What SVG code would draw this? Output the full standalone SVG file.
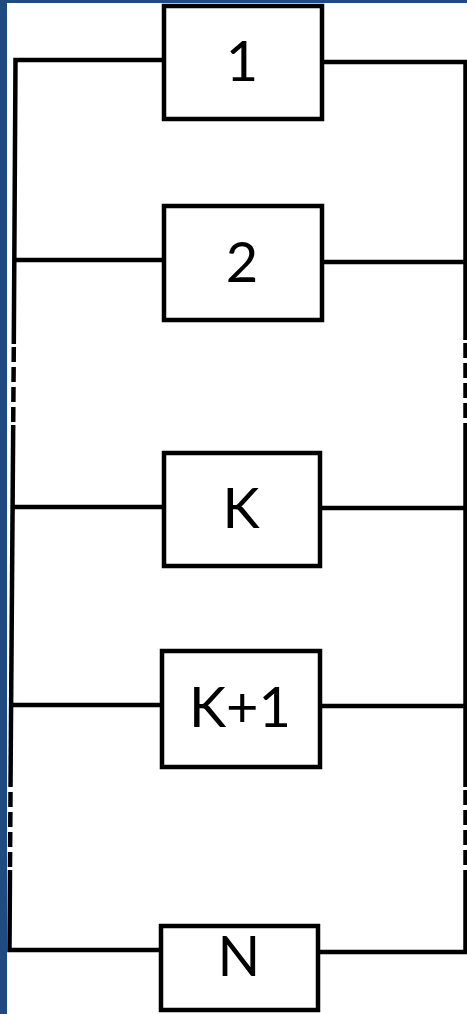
<svg xmlns="http://www.w3.org/2000/svg" width="467" height="1014" viewBox="0 0 467 1014">
<style>
.box{fill:#fff;stroke:#000;stroke-width:4.5}
.lbl{font-family:"Lato","Liberation Sans",sans-serif;font-size:56px;fill:#000;text-anchor:middle}
.w{stroke:#000;stroke-width:4.5;fill:none}
.d{stroke:#000;stroke-width:4.5;fill:none;stroke-dasharray:15 5}
</style>
<rect x="0" y="0" width="467" height="1014" fill="#fff"/>
<rect x="0" y="0" width="7" height="1014" fill="#1f4b80"/>
<rect x="0" y="0" width="467" height="3" fill="#1f4b80"/>
<g id="connectors">
<polyline class="w" points="164,60 15.5,60 13.8,344"/>
<line class="d" x1="13.8" y1="347" x2="13.2" y2="425"/>
<polyline class="w" points="13.2,425 10.5,787"/>
<line class="d" x1="10.5" y1="792" x2="10" y2="870"/>
<polyline class="w" points="10,870 9.5,950 162,950"/>
<line class="w" x1="13.5" y1="260" x2="164" y2="260"/>
<line class="w" x1="12.5" y1="507" x2="164" y2="507"/>
<line class="w" x1="11" y1="705" x2="162" y2="705"/>
<polyline class="w" points="322,62 465.5,62 465.5,340"/>
<line class="d" x1="465.5" y1="343" x2="465.5" y2="425"/>
<line class="w" x1="465.5" y1="425" x2="465.5" y2="787"/>
<line class="d" x1="465.5" y1="790" x2="465.5" y2="870"/>
<polyline class="w" points="465.5,870 465.5,952 318,952"/>
<line class="w" x1="322" y1="262" x2="465.5" y2="262"/>
<line class="w" x1="320" y1="508" x2="465.5" y2="508"/>
<line class="w" x1="320" y1="706" x2="465.5" y2="706"/>
</g>
<g id="n1"><rect class="box" x="164" y="6" width="158" height="113"/><text class="lbl" x="242" y="81">1</text></g>
<g id="n2"><rect class="box" x="164" y="206" width="158" height="114"/><text class="lbl" x="242" y="282">2</text></g>
<g id="nK"><rect class="box" x="164" y="453" width="156" height="113"/><text class="lbl" x="241" y="528">K</text></g>
<g id="nK1"><rect class="box" x="162" y="651" width="158" height="116"/><text class="lbl" x="240" y="727">K+1</text></g>
<g id="nN"><rect class="box" x="161" y="926" width="157" height="84"/><text class="lbl" x="239" y="976">N</text></g>
</svg>
